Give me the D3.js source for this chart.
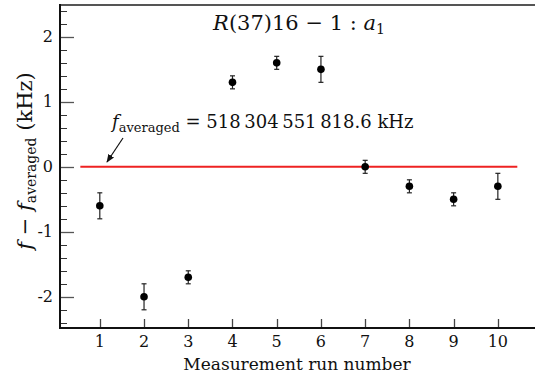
<!DOCTYPE html>
<html>
<head>
<meta charset="utf-8">
<script src="https://cdn.jsdelivr.net/npm/d3@7"></script>
<style>
  body { margin: 0; background: #fff; }
  svg { display: block; }
  text { font-family: "DejaVu Serif", "Liberation Serif", serif; fill: #111; }
</style>
</head>
<body>
<svg width="535" height="376"></svg>
<script>
// measurement runs and deviations from average (kHz)
var runs = [1, 2, 3, 4, 5, 6, 7, 8, 9, 10];
var deltas = [-0.6, -2.0, -1.7, 1.3, 1.6, 1.5, 0.0, -0.3, -0.5, -0.3];
var errors = [0.2, 0.2, 0.1, 0.1, 0.1, 0.2, 0.1, 0.1, 0.1, 0.2];
var yTicks = [-2, -1, 0, 1, 2];
var yTickLabels = ["-2", "-1", "0", "1", "2"];
var xTicks = [1, 2, 3, 4, 5, 6, 7, 8, 9, 10];

var svg = d3.select("svg");
var plotL = 60, plotR = 535, plotT = 5, plotB = 328;

var x = d3.scaleLinear().domain([0.1, 10.84]).range([plotL, plotR]);
var y = d3.scaleLinear().domain([-2.48, 2.49]).range([plotB, plotT]);

// frame: top border
svg.append("line")
    .attr("x1", plotL).attr("x2", plotR)
    .attr("y1", plotT).attr("y2", plotT)
    .attr("stroke", "#555").attr("stroke-width", 2);

// minor y ticks
var minor = d3.range(-2.4, 2.45, 0.2).filter(function(v) { return Math.abs(v - Math.round(v)) > 0.01; });
svg.selectAll(".ymin").data(minor).enter().append("line")
    .attr("x1", plotL).attr("x2", plotL + 7)
    .attr("y1", function(d) { return Math.round(y(d)) + 0.5; })
    .attr("y2", function(d) { return Math.round(y(d)) + 0.5; })
    .attr("stroke", "#333").attr("stroke-width", 1);

// major y ticks
svg.selectAll(".ymaj").data(yTicks).enter().append("line")
    .attr("x1", plotL).attr("x2", plotL + 14)
    .attr("y1", function(d) { return Math.round(y(d)) + 0.5; })
    .attr("y2", function(d) { return Math.round(y(d)) + 0.5; })
    .attr("stroke", "#555").attr("stroke-width", 1.3);

svg.selectAll(".ylab").data(yTicks).enter().append("text")
    .attr("x", 53)
    .attr("y", function(d) { return y(d) + 5.5; })
    .attr("text-anchor", "end")
    .attr("font-size", 16)
    .text(function(d, i) { return yTickLabels[i]; });

// x ticks (inside, upward)
svg.selectAll(".xt").data(xTicks).enter().append("line")
    .attr("x1", function(d) { return Math.round(x(d)) + 0.5; })
    .attr("x2", function(d) { return Math.round(x(d)) + 0.5; })
    .attr("y1", plotB).attr("y2", plotB - 9)
    .attr("stroke", "#444").attr("stroke-width", 1.3);

svg.selectAll(".xlab").data(xTicks).enter().append("text")
    .attr("x", function(d) { return x(d); })
    .attr("y", 347)
    .attr("text-anchor", "middle")
    .attr("font-size", 16)
    .text(function(d) { return d; });

// axes lines
svg.append("line")
    .attr("x1", plotL).attr("x2", plotL)
    .attr("y1", plotT - 1).attr("y2", plotB + 1)
    .attr("stroke", "#111").attr("stroke-width", 2);
svg.append("line")
    .attr("x1", plotL).attr("x2", plotR)
    .attr("y1", plotB).attr("y2", plotB)
    .attr("stroke", "#111").attr("stroke-width", 2);

// zero reference line
svg.append("line")
    .attr("x1", x(0.56)).attr("x2", x(10.44))
    .attr("y1", y(0)).attr("y2", y(0))
    .attr("stroke", "#ee2222").attr("stroke-width", 2);

// error bars
var pts = runs.map(function(r, i) { return { run: r, v: deltas[i], e: errors[i] }; });
var g = svg.append("g");
g.selectAll(".eb").data(pts).enter().append("line")
    .attr("x1", function(d) { return x(d.run); })
    .attr("x2", function(d) { return x(d.run); })
    .attr("y1", function(d) { return y(d.v + d.e); })
    .attr("y2", function(d) { return y(d.v - d.e); })
    .attr("stroke", "#222").attr("stroke-width", 1.2);
g.selectAll(".capt").data(pts).enter().append("line")
    .attr("x1", function(d) { return x(d.run) - 2.5; })
    .attr("x2", function(d) { return x(d.run) + 2.5; })
    .attr("y1", function(d) { return y(d.v + d.e); })
    .attr("y2", function(d) { return y(d.v + d.e); })
    .attr("stroke", "#222").attr("stroke-width", 1.2);
g.selectAll(".capb").data(pts).enter().append("line")
    .attr("x1", function(d) { return x(d.run) - 2.5; })
    .attr("x2", function(d) { return x(d.run) + 2.5; })
    .attr("y1", function(d) { return y(d.v - d.e); })
    .attr("y2", function(d) { return y(d.v - d.e); })
    .attr("stroke", "#222").attr("stroke-width", 1.2);
g.selectAll("circle").data(pts).enter().append("circle")
    .attr("cx", function(d) { return x(d.run); })
    .attr("cy", function(d) { return y(d.v); })
    .attr("r", 3.8)
    .attr("fill", "#000");

// title
var title = svg.append("text")
    .attr("x", 299).attr("y", 30)
    .attr("text-anchor", "middle")
    .attr("font-size", 21);
title.append("tspan").attr("font-style", "italic").text("R");
title.append("tspan").text("(37)16 \u2212 1 : ");
title.append("tspan").attr("font-style", "italic").text("a");
title.append("tspan").attr("font-size", 14).attr("dy", 4).text("1");

// annotation
var ann = svg.append("text")
    .attr("x", 112).attr("y", 128)
    .attr("font-size", 18);
ann.append("tspan").attr("font-style", "italic").text("f");
ann.append("tspan").attr("font-size", 13).attr("dy", 4).text("averaged");
ann.append("tspan").attr("dy", -4).text(" = 518\u2009304\u2009551\u2009818.6 kHz");

svg.append("defs").append("marker")
    .attr("id", "arr")
    .attr("viewBox", "0 0 10 10")
    .attr("refX", 9).attr("refY", 5)
    .attr("markerWidth", 7).attr("markerHeight", 7)
    .attr("orient", "auto")
    .append("path")
    .attr("d", "M0,1 L10,5 L0,9 z")
    .attr("fill", "#111");
svg.append("line")
    .attr("x1", 123).attr("y1", 138)
    .attr("x2", 107).attr("y2", 162)
    .attr("stroke", "#111").attr("stroke-width", 1.2)
    .attr("marker-end", "url(#arr)");

// axis labels
svg.append("text")
    .attr("x", 297).attr("y", 370)
    .attr("text-anchor", "middle")
    .attr("font-size", 17)
    .text("Measurement run number");

var yl = svg.append("text")
    .attr("transform", "translate(32,161) rotate(-90)")
    .attr("text-anchor", "middle")
    .attr("font-size", 21);
yl.append("tspan").attr("font-style", "italic").text("f");
yl.append("tspan").text(" \u2212 ");
yl.append("tspan").attr("font-style", "italic").text("f");
yl.append("tspan").attr("font-size", 14).attr("dy", 4).text("averaged");
yl.append("tspan").attr("dy", -4).text(" (kHz)");
</script>
</body>
</html>
